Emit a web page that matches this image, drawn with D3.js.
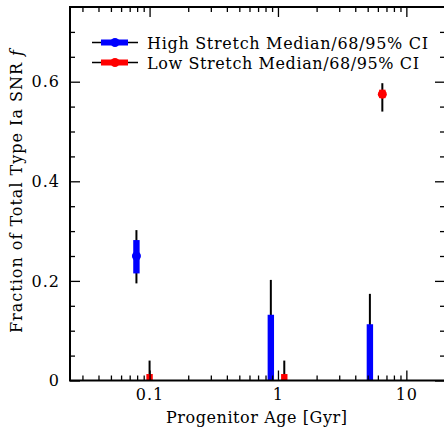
<!DOCTYPE html>
<html>
<head>
<meta charset="utf-8">
<script src="https://cdn.jsdelivr.net/npm/d3@7"></script>
<style>
  body { margin: 0; background: #fff; }
  svg { display: block; }
  text { font-family: "DejaVu Serif", serif; fill: #000; }
</style>
</head>
<body>
<svg id="chart"></svg>
<script>
// progenitor age bins [Gyr]
const highAges = [0.079, 0.88, 5.2];
const lowAges = [0.1, 1.12, 6.5];

// high stretch: median, 68% lo/hi, 95% lo/hi
const highMed = [0.25, 0, 0];
const high68 = [[0.215, 0.282], [0, 0.132], [0, 0.113]];
const high95 = [[0.195, 0.302], [0, 0.202], [0, 0.174]];

// low stretch
const lowMed = [0, 0, 0.575];
const low68 = [[0, 0.013], [0, 0.013], [0.567, 0.584]];
const low95 = [[0, 0.04], [0, 0.04], [0.54, 0.597]];

const xTicks = [0.1, 1, 10];
const yTicks = [0, 0.2, 0.4, 0.6];
const legendLabels = ["High Stretch Median/68/95% CI", "Low Stretch Median/68/95% CI"];

const width = 444, height = 427;
const svg = d3.select("#chart").attr("width", width).attr("height", height);

const x = d3.scaleLog().domain([0.024, 20]).range([70, 445]);
const y = d3.scaleLinear().domain([0, 0.75]).range([380.5, 7]);

// minor tick positions
const xMinor = [];
[0.01, 0.1, 1, 10].forEach(d => {
  for (let k = 2; k <= 9; k++) {
    const v = d * k;
    if (v > 0.024 && v < 20 && !xTicks.includes(v)) xMinor.push(v);
  }
});
const yMinor = d3.range(0.05, 0.75, 0.05).filter(v => Math.abs(v * 5 - Math.round(v * 5)) > 1e-6);

// error bars
function drawSeries(ages, med, ci68, ci95, color) {
  const g = svg.append("g");
  ages.forEach((a, i) => {
    g.append("line")
      .attr("x1", x(a)).attr("x2", x(a))
      .attr("y1", y(ci95[i][0])).attr("y2", y(ci95[i][1]))
      .attr("stroke", "#000").attr("stroke-width", 2);
    g.append("rect")
      .attr("x", x(a) - 3.2).attr("width", 6.4)
      .attr("y", y(ci68[i][1])).attr("height", y(ci68[i][0]) - y(ci68[i][1]))
      .attr("fill", color);
    if (med[i] > 0) {
      g.append("circle")
        .attr("cx", x(a)).attr("cy", y(med[i])).attr("r", 4.5)
        .attr("fill", color);
    }
  });
}
drawSeries(highAges, highMed, high68, high95, "#0000ff");
drawSeries(lowAges, lowMed, low68, low95, "#ff0000");

// axes
const axBottom = svg.append("g").attr("transform", `translate(0,${y(0)})`);
axBottom.call(d3.axisBottom(x).tickValues(xTicks).tickSize(-10).tickPadding(8)
  .tickFormat(d3.format("~g")));
axBottom.append("g").call(d3.axisBottom(x).tickValues(xMinor).tickSize(-5).tickFormat(""));

const axTop = svg.append("g").attr("transform", `translate(0,${y(0.75)})`);
axTop.call(d3.axisTop(x).tickValues(xTicks).tickSize(-10).tickFormat(""));
axTop.append("g").call(d3.axisTop(x).tickValues(xMinor).tickSize(-5).tickFormat(""));

const axLeft = svg.append("g").attr("transform", `translate(${x(0.024)},0)`);
axLeft.call(d3.axisLeft(y).tickValues(yTicks).tickSize(-10).tickPadding(10)
  .tickFormat(d => d === 0 ? "0" : d3.format(".1f")(d)));
axLeft.append("g").call(d3.axisLeft(y).tickValues(yMinor).tickSize(-5).tickFormat(""));

const axRight = svg.append("g").attr("transform", `translate(${x(20)},0)`);
axRight.call(d3.axisRight(y).tickValues(yTicks).tickSize(-10).tickFormat(""));
axRight.append("g").call(d3.axisRight(y).tickValues(yMinor).tickSize(-5).tickFormat(""));

svg.selectAll(".domain").remove();
svg.selectAll(".tick line").attr("stroke", "#000").attr("stroke-width", 1.3);
svg.selectAll(".tick text").attr("font-size", 16).attr("font-family", "DejaVu Serif")
  .attr("letter-spacing", 1);

svg.append("rect")
  .attr("x", x(0.024)).attr("y", y(0.75))
  .attr("width", x(20) - x(0.024)).attr("height", y(0) - y(0.75))
  .attr("fill", "none").attr("stroke", "#000").attr("stroke-width", 2);

// legend
const legendColors = ["#0000ff", "#ff0000"];
const legendWidths = [281, 272];
legendLabels.forEach((lab, i) => {
  const ly = 42.5 + i * 20;
  const lg = svg.append("g");
  lg.append("line").attr("x1", 92).attr("x2", 138).attr("y1", ly).attr("y2", ly)
    .attr("stroke", "#000").attr("stroke-width", 1.5);
  lg.append("line").attr("x1", 101).attr("x2", 128).attr("y1", ly).attr("y2", ly)
    .attr("stroke", legendColors[i]).attr("stroke-width", 6);
  lg.append("circle").attr("cx", 115).attr("cy", ly).attr("r", 4.5).attr("fill", legendColors[i]);
  lg.append("text").attr("x", 147).attr("y", ly + 6).attr("font-size", 16)
    .attr("textLength", legendWidths[i]).attr("lengthAdjust", "spacing").text(lab);
});

// axis titles
svg.append("text")
  .attr("x", 166).attr("y", 423).attr("font-size", 16)
  .attr("textLength", 181).attr("lengthAdjust", "spacing")
  .text("Progenitor Age [Gyr]");

const yt = svg.append("text")
  .attr("transform", "translate(22,333) rotate(-90)")
  .attr("font-size", 16)
  .attr("textLength", 283).attr("lengthAdjust", "spacing");
yt.append("tspan").text("Fraction of Total Type Ia SNR ");
yt.append("tspan").attr("font-style", "italic").text("f");
</script>
</body>
</html>
